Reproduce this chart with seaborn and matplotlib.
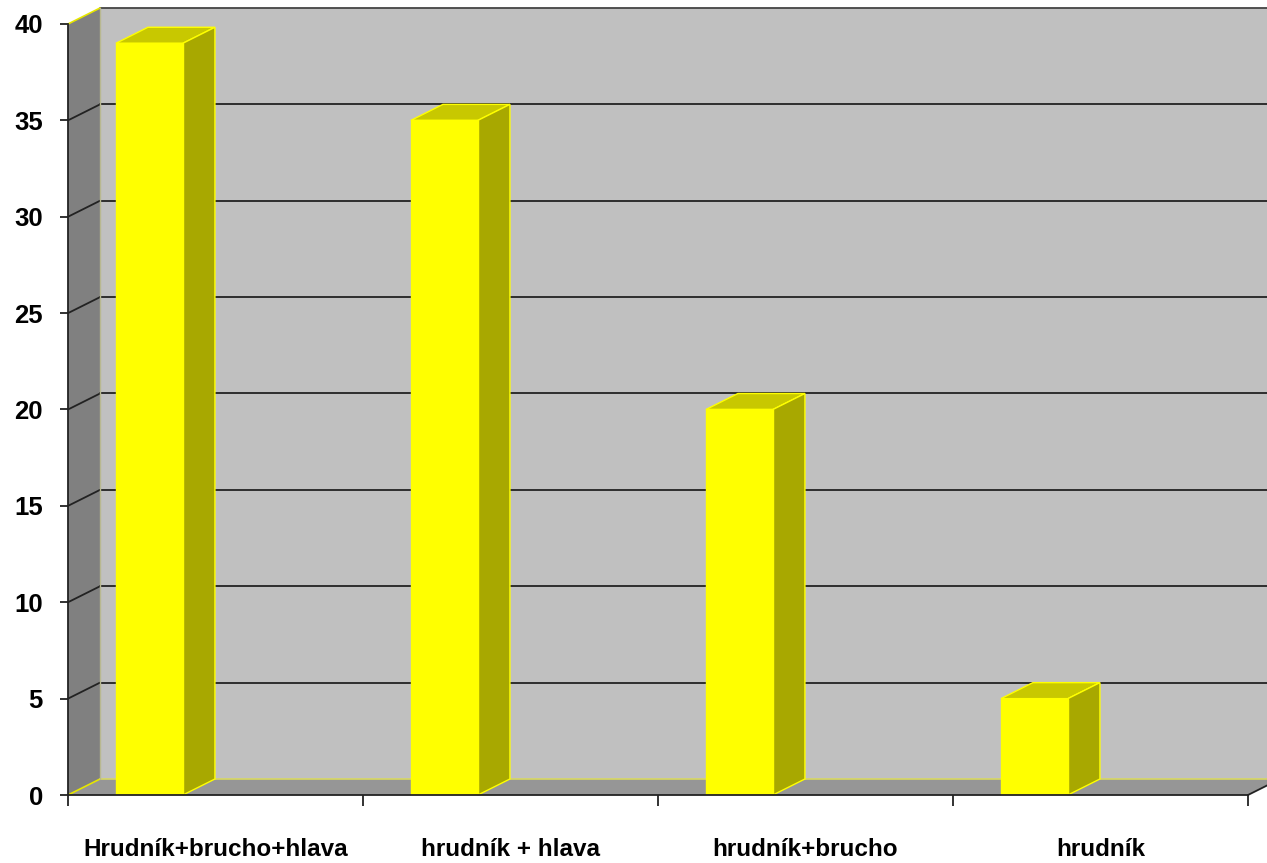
import matplotlib
matplotlib.use("Agg")
import matplotlib.pyplot as plt
from matplotlib.patches import Polygon
import seaborn as sns

categories = ["Hrudník+brucho+hlava", "hrudník + hlava", "hrudník+brucho", "hrudník"]
values = [39, 35, 20, 5]
yticks = [0, 5, 10, 15, 20, 25, 30, 35, 40]

sns.set_style("white")
plt.rcParams["font.family"] = ["Liberation Sans", "DejaVu Sans"]
plt.rcParams["text.color"] = "black"
plt.rcParams["xtick.color"] = "black"
plt.rcParams["ytick.color"] = "black"

W, H = 1267, 863
fig = plt.figure(figsize=(W / 100, H / 100), dpi=100)
ax_left, ax_right, ax_bottom, ax_top = 68, 1248, 795, 24
ax = fig.add_axes([ax_left / W, (H - ax_bottom) / H,
                   (ax_right - ax_left) / W, (ax_bottom - ax_top) / H])
ax.patch.set_visible(False)

xmin, xmax, ymin, ymax = -0.5, len(categories) - 0.5, 0, 40
# depth offset (32 px right, 16 px up) in data units
ddx = 32 / (ax_right - ax_left) * (xmax - xmin)
ddy = 16 / (ax_bottom - ax_top) * (ymax - ymin)

wall_c = "#C0C0C0"
side_wall_c = "#808080"
floor_c = "#969696"
edge_y = "#E6E600"

# back wall
ax.add_patch(Polygon([(xmin + ddx, ymin + ddy), (xmax + ddx, ymin + ddy),
                      (xmax + ddx, ymax + ddy), (xmin + ddx, ymax + ddy)],
                     closed=True, facecolor=wall_c, edgecolor="none",
                     clip_on=False, zorder=0))
# left wall
ax.add_patch(Polygon([(xmin, ymin), (xmin + ddx, ymin + ddy),
                      (xmin + ddx, ymax + ddy), (xmin, ymax)],
                     closed=True, facecolor=side_wall_c, edgecolor="none",
                     clip_on=False, zorder=0.5))
# floor
ax.add_patch(Polygon([(xmin, ymin), (xmax, ymin),
                      (xmax + ddx, ymin + ddy), (xmin + ddx, ymin + ddy)],
                     closed=True, facecolor=floor_c, edgecolor="none",
                     clip_on=False, zorder=0.5))
# gridlines on back and left wall
for v in yticks[1:]:
    c = "#222222" if v < ymax else "#444444"
    ax.plot([xmin + ddx, xmax + ddx], [v + ddy, v + ddy], color=c, lw=1.3,
            clip_on=False, zorder=1)
    if v < ymax:
        ax.plot([xmin, xmin + ddx], [v, v + ddy], color="#222222", lw=1.3,
                clip_on=False, zorder=1)
# yellowish edges
ax.plot([xmin, xmin + ddx], [ymax, ymax + ddy], color=edge_y, lw=1.2, clip_on=False, zorder=1.2)
ax.plot([xmin, xmin + ddx], [ymin, ymin + ddy], color=edge_y, lw=1.2, clip_on=False, zorder=1.2)
ax.plot([xmin + ddx, xmax + ddx], [ymin + ddy, ymin + ddy], color="#D8D860", lw=1.2, clip_on=False, zorder=1.2)
ax.plot([xmin + ddx, xmin + ddx], [ymin + ddy, ymax + ddy], color="#B8B890", lw=1.0, clip_on=False, zorder=1.2)
ax.plot([xmax, xmax + ddx], [ymin, ymin + ddy], color="#222222", lw=1.3, clip_on=False, zorder=1.2)

# bars (front faces)
bar_w = 67 / (ax_right - ax_left) * (xmax - xmin)
shift = -0.224
sns.barplot(x=categories, y=values, color="#FFFF00", saturation=1, width=bar_w,
            edgecolor="#FFFF00", linewidth=1, ax=ax, zorder=3)
for p in ax.patches:
    if hasattr(p, "get_width") and abs(p.get_width() - bar_w) < 1e-9:
        p.set_x(p.get_x() + shift)
        x0, x1 = p.get_x(), p.get_x() + p.get_width()
        v = p.get_height()
        # top face
        ax.add_patch(Polygon([(x0, v), (x1, v), (x1 + ddx, v + ddy), (x0 + ddx, v + ddy)],
                             closed=True, facecolor="#C8C800", edgecolor="#FFFF00",
                             lw=1, clip_on=False, zorder=2.5))
        # side face
        ax.add_patch(Polygon([(x1, 0), (x1 + ddx, ddy), (x1 + ddx, v + ddy), (x1, v)],
                             closed=True, facecolor="#A8A800", edgecolor="#FFFF00",
                             lw=1, clip_on=False, zorder=2.5))

ax.set_xlim(xmin, xmax)
ax.set_ylim(ymin, ymax)
ax.set_yticks(yticks)
ax.set_yticklabels([str(t) for t in yticks], fontsize=18.5, fontweight="bold", color="black")
ax.set_xticks(range(len(categories)))
ax.set_xticklabels(categories, fontsize=17.5, fontweight="bold", color="black")
ax.set_xticks([i - 0.5 for i in range(len(categories) + 1)], minor=True)
ax.tick_params(axis="x", which="major", length=0, pad=31, bottom=True)
ax.tick_params(axis="x", which="minor", length=8, width=1.3, color="#222222",
               direction="out", bottom=True)
ax.tick_params(axis="y", which="major", length=6, width=1.3, color="#222222",
               pad=12, direction="out", left=True)
ax.set_xlabel("")
ax.set_ylabel("")
for s in ["top", "right"]:
    ax.spines[s].set_visible(False)
for s in ["left", "bottom"]:
    ax.spines[s].set_color("#222222")
    ax.spines[s].set_linewidth(1.3)
    ax.spines[s].set_zorder(4)

fig.savefig("out.png", dpi=100)
